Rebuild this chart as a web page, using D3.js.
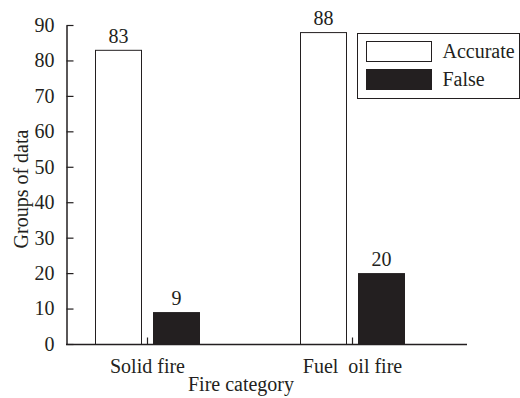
<!DOCTYPE html>
<html>
<head>
<meta charset="utf-8">
<script src="https://cdn.jsdelivr.net/npm/d3@7/dist/d3.min.js"></script>
<style>
  html, body { margin: 0; padding: 0; background: #fff; }
</style>
</head>
<body>
<svg id="chart" width="520" height="398"></svg>
<script>
// Fire detection results per fire category
const categories = ["Solid fire", "Fuel  oil fire"];
const seriesNames = ["Accurate", "False"];
const accurate = [83, 88];
const falseAlarms = [9, 20];
const yTicks = [0, 10, 20, 30, 40, 50, 60, 70, 80, 90];

const ink = "#231f20";
const fills = ["#ffffff", ink];
const series = [accurate, falseAlarms];
const fontSize = 20;
const serif = '"Liberation Serif", "Times New Roman", serif';

const svg = d3.select("#chart");
const plot = { left: 66, right: 467, top: 25, bottom: 344 };

const y = d3.scaleLinear().domain([0, 90]).range([plot.bottom, plot.top]);
const x = d3.scalePoint().domain(categories).range([plot.left + 81, plot.left + 286]);
const barW = 46, gap = 6;
const sub = d3.scaleOrdinal().domain(seriesNames).range([-gap - barW, gap]);

// bars and value labels
series.forEach((vals, si) => {
  svg.append("g").selectAll("rect")
    .data(vals)
    .join("rect")
    .attr("x", (d, i) => x(categories[i]) + sub(seriesNames[si]) + 0.5)
    .attr("y", d => y(d) + 0.5)
    .attr("width", barW)
    .attr("height", d => y(0) - y(d))
    .attr("fill", fills[si])
    .attr("stroke", ink)
    .attr("stroke-width", 1);

  svg.append("g").selectAll("text")
    .data(vals)
    .join("text")
    .attr("x", (d, i) => x(categories[i]) + sub(seriesNames[si]) + barW / 2 + 0.5)
    .attr("y", d => y(d) - 7)
    .attr("text-anchor", "middle")
    .text(d => d);
});

// y axis
const yAxis = svg.append("g")
  .attr("transform", `translate(${plot.left + 0.5},0)`)
  .call(d3.axisLeft(y).tickValues(yTicks).tickSize(-7).tickPadding(12).tickSizeOuter(0));
yAxis.select(".domain").attr("stroke", ink).attr("stroke-width", 1.5);
yAxis.selectAll(".tick line").attr("stroke", ink).attr("stroke-width", 1.2);

// x axis
const xAxis = svg.append("g")
  .attr("transform", `translate(0,${plot.bottom + 0.5})`)
  .call(d3.axisBottom(x).tickSize(-7).tickPadding(14).tickSizeOuter(0));
xAxis.select(".domain").attr("d", `M${plot.left},0H${plot.right}`).attr("stroke", ink).attr("stroke-width", 1.5);
xAxis.selectAll(".tick line").attr("stroke", ink).attr("stroke-width", 1.2);
xAxis.selectAll(".tick text").style("white-space", "pre");

// axis titles
svg.append("text")
  .attr("x", 241).attr("y", 391)
  .attr("text-anchor", "middle")
  .text("Fire category");

svg.append("text")
  .attr("transform", "translate(28,189) rotate(-90)")
  .attr("text-anchor", "middle")
  .text("Groups of data");

// legend
const legend = svg.append("g").attr("transform", "translate(357.5,33.5)");
legend.append("rect")
  .attr("width", 162).attr("height", 65)
  .attr("fill", "#fff").attr("stroke", ink).attr("stroke-width", 1);
seriesNames.forEach((name, i) => {
  legend.append("rect")
    .attr("x", 9).attr("y", 8 + i * 28)
    .attr("width", 65).attr("height", 20)
    .attr("fill", fills[i]).attr("stroke", ink).attr("stroke-width", 1);
  legend.append("text")
    .attr("x", 85).attr("y", 24 + i * 28)
    .text(name);
});

// shared text style
svg.selectAll("text")
  .style("font-family", serif)
  .style("font-size", fontSize + "px")
  .style("fill", ink);
</script>
</body>
</html>
